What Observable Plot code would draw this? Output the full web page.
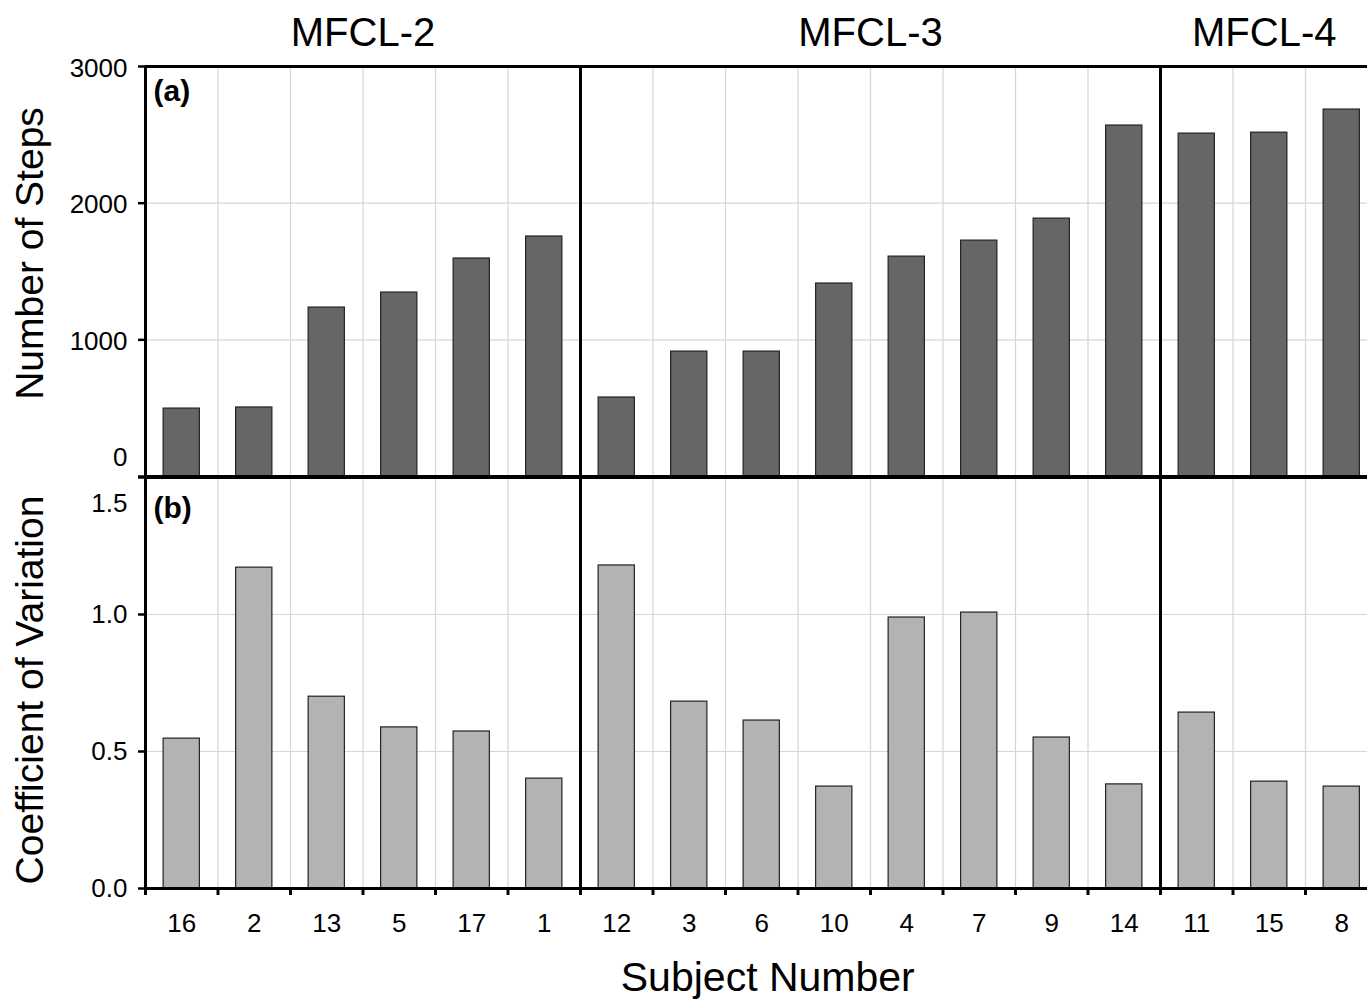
<!DOCTYPE html>
<html>
<head>
<meta charset="utf-8">
<script src="https://cdn.jsdelivr.net/npm/d3@7"></script>
<script src="https://cdn.jsdelivr.net/npm/@observablehq/plot@0.6"></script>
<style>
  html, body { margin: 0; padding: 0; background: #fff; color: #000; overflow: hidden; }
  #wrap { position: relative; width: 1380px; height: 1000px; }
  #wrap svg { position: absolute; left: 0; top: 0; max-width: none; }
</style>
</head>
<body>
<div id="wrap"></div>
<script>
// ---- data ----
const subjects = ["16","2","13","5","17","1","12","3","6","10","4","7","9","14","11","15","8"];
const groupNames = ["MFCL-2","MFCL-3","MFCL-4"];
const groupSizes = [6, 8, 3];
const steps = [497, 505, 1236, 1346, 1595, 1756, 578, 914, 914, 1412, 1609, 1726, 1887, 2568, 2509, 2516, 2685];
const cv = [0.547, 1.171, 0.700, 0.588, 0.573, 0.401, 1.179, 0.682, 0.613, 0.372, 0.989, 1.007, 0.551, 0.380, 0.642, 0.390, 0.372];
const stepTicks = [0, 1000, 2000, 3000];
const cvTicks = [0, 0.5, 1.0, 1.5];

const table = subjects.map((s, i) => ({subject: s, steps: steps[i], cv: cv[i]}));

// group boundaries derived from the groups
const groupStarts = [];
{ let k = 0; for (const n of groupSizes) { groupStarts.push(subjects[k]); k += n; } }

const W = 1380, H = 1000, ML = 145, MR = 2.5;
const step = (W - ML - MR) / subjects.length;
const font = "'Liberation Sans', Arial, Helvetica, sans-serif";
const gridColor = "#d6d6d6";
const xOpts = {type: "band", domain: subjects, paddingInner: 0.5, paddingOuter: 0.25, align: 0.5, round: false, axis: null};
const svgStyle = {background: "transparent", fontFamily: font, color: "#000", maxWidth: "none", overflow: "visible"};
const groupDx = [step / 2, step / 2, -5];

function groupLabelMarks() {
  const marks = [];
  let k = 0;
  groupNames.forEach((name, gi) => {
    const n = groupSizes[gi];
    const even = n % 2 === 0;
    const mid = even ? subjects[k + n / 2 - 1] : subjects[k + (n - 1) / 2];
    marks.push(Plot.text([name], {
      x: () => mid, frameAnchor: "top", dy: -49, dx: groupDx[gi],
      fontSize: 40, fill: "#000"
    }));
    k += n;
  });
  return marks;
}

const chartA = Plot.plot({
  width: W, height: H,
  marginLeft: ML, marginRight: MR, marginTop: 66, marginBottom: H - 476,
  style: svgStyle,
  x: xOpts,
  y: {domain: [0, 3000], axis: null},
  marks: [
    Plot.gridX(subjects, {dx: -step / 2, stroke: gridColor, strokeOpacity: 1, strokeWidth: 1.2}),
    Plot.gridY([1000, 2000], {stroke: gridColor, strokeOpacity: 1, strokeWidth: 1.2}),
    Plot.barY(table, {x: "subject", y: "steps", fill: "#666666", stroke: "#222", strokeWidth: 1.2}),
    Plot.ruleY([0, 3000], {stroke: "#000", strokeWidth: 3}),
    Plot.ruleX(groupStarts, {dx: -step / 2, stroke: "#000", strokeWidth: 3}),
    Plot.axisY(stepTicks, {tickSize: 7, tickFormat: () => "", strokeWidth: 2.5, label: null}),
    Plot.axisY([1000, 2000, 3000], {tickSize: 0, tickPadding: 18, fontSize: 26, label: null, dy: 2, tickFormat: d3.format("d")}),
    Plot.axisY([0], {tickSize: 0, tickPadding: 18, fontSize: 26, label: null, dy: -19, tickFormat: d3.format("d")}),
    Plot.text(["(a)"], {frameAnchor: "top-left", dx: 8, dy: 13, fontSize: 30, fontWeight: "bold", fill: "#000"}),
    Plot.text(["Number of Steps"], {frameAnchor: "left", textAnchor: "middle", rotate: -90, dx: -115, dy: -18, fontSize: 39, fill: "#000"}),
    ...groupLabelMarks()
  ]
});

const chartB = Plot.plot({
  width: W, height: H,
  marginLeft: ML, marginRight: MR, marginTop: 477, marginBottom: H - 888,
  style: svgStyle,
  x: xOpts,
  y: {domain: [0, 1.5], axis: null},
  marks: [
    Plot.gridX(subjects, {dx: -step / 2, stroke: gridColor, strokeOpacity: 1, strokeWidth: 1.2}),
    Plot.gridY([0.5, 1.0], {stroke: gridColor, strokeOpacity: 1, strokeWidth: 1.2}),
    Plot.barY(table, {x: "subject", y: "cv", fill: "#b3b3b3", stroke: "#222", strokeWidth: 1.2}),
    Plot.ruleY([0, 1.5], {stroke: "#000", strokeWidth: 3}),
    Plot.ruleX(groupStarts, {dx: -step / 2, stroke: "#000", strokeWidth: 3}),
    Plot.axisY(cvTicks, {tickSize: 7, tickFormat: () => "", strokeWidth: 2.5, label: null}),
    Plot.axisY([0, 0.5, 1.0], {tickSize: 0, tickPadding: 18, fontSize: 26, label: null, tickFormat: d3.format(".1f")}),
    Plot.axisY([1.5], {tickSize: 0, tickPadding: 18, fontSize: 26, label: null, tickFormat: d3.format(".1f"), dy: 26}),
    Plot.axisX(subjects, {dx: -step / 2, tickSize: 7, tickFormat: () => "", strokeWidth: 3, label: null}),
    Plot.axisX(subjects, {tickSize: 0, tickPadding: 25, fontSize: 26, label: null}),
    Plot.text(["(b)"], {frameAnchor: "top-left", dx: 8, dy: 19, fontSize: 30, fontWeight: "bold", fill: "#000"}),
    Plot.text(["Coefficient of Variation"], {frameAnchor: "left", textAnchor: "middle", rotate: -90, dx: -115, dy: 7, fontSize: 39, fill: "#000"}),
    Plot.text(["Subject Number"], {frameAnchor: "bottom", dx: 6, dy: 102, fontSize: 41, fill: "#000"})
  ]
});

const wrap = document.getElementById("wrap");
wrap.appendChild(chartA);
wrap.appendChild(chartB);
</script>
</body>
</html>
